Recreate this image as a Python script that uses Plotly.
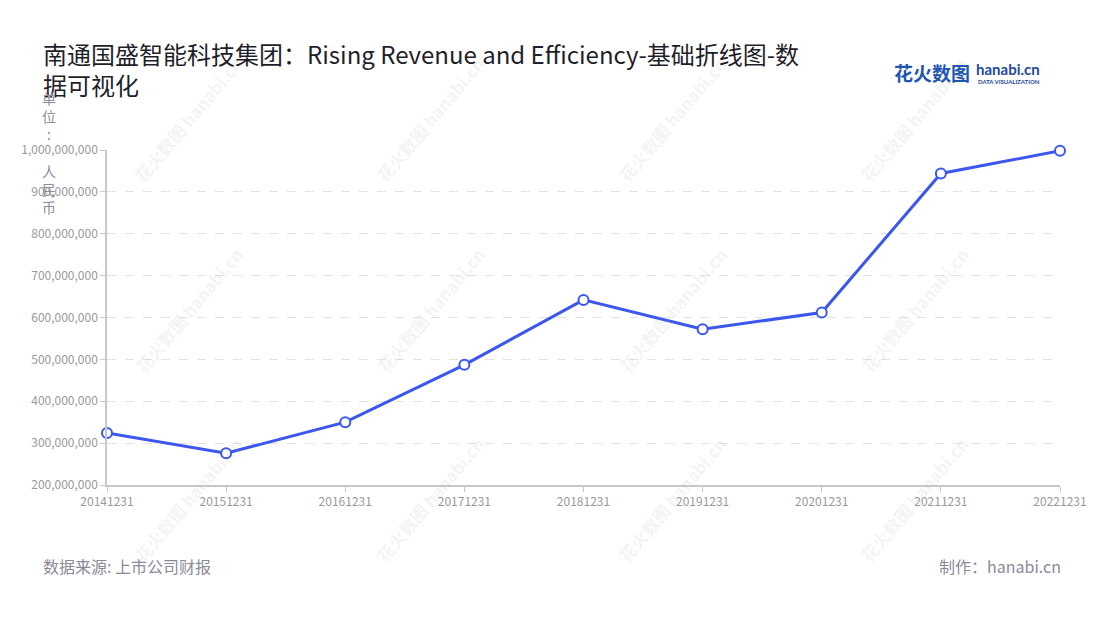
import plotly.graph_objects as go

categories = ["20141231", "20151231", "20161231", "20171231", "20181231",
              "20191231", "20201231", "20211231", "20221231"]
revenue = [324e6, 276e6, 350e6, 487e6, 642e6, 572e6, 612e6, 944e6, 998e6]
y_ticks = [200e6, 300e6, 400e6, 500e6, 600e6, 700e6, 800e6, 900e6, 1000e6]

title_text = "南通国盛智能科技集团：Rising Revenue and Efficiency-基础折线图-数<br>据可视化"
source_text = "数据来源: 上市公司财报"
maker_text = "制作：hanabi.cn"
unit_text = "单<br>位<br>:<br> <br>人<br>民<br>币"

FONT = "Noto Sans CJK SC, Noto Sans, sans-serif"
W, H = 1100, 620
L, R, T, B = 107, 40, 150, 135
PW, PH = W - L - R, H - T - B


def px(x):
    return (x - L) / PW


def py(y):
    return (H - B - y) / PH


fig = go.Figure()
fig.add_trace(go.Scatter(
    x=categories, y=revenue, mode="lines+markers",
    line=dict(color="#3b57ee", width=3),
    marker=dict(size=10, color="white", line=dict(color="#3b57ee", width=2)),
    hoverinfo="x+y", showlegend=False, cliponaxis=False,
))

annotations = []
# watermarks
for cx in [188, 430, 672, 914]:
    for cy in [120, 310, 500]:
        annotations.append(dict(
            x=px(cx), y=py(cy), xref="paper", yref="paper",
            text="<b>花火数图 hanabi.cn</b>", showarrow=False, textangle=-50,
            font=dict(family=FONT, size=17, color="rgba(170,170,170,0.15)"),
            xanchor="center", yanchor="middle"))

annotations += [
    dict(x=px(41), y=py(34), xref="paper", yref="paper", text=title_text,
         showarrow=False, xanchor="left", yanchor="top", align="left",
         font=dict(family=FONT, size=24, color="#1f1f2b")),
    dict(x=px(49), y=py(86), xref="paper", yref="paper", text=unit_text,
         showarrow=False, xanchor="center", yanchor="top", align="center",
         font=dict(family=FONT, size=14, color="#8d8d9c")),
    dict(x=px(41), y=py(566), xref="paper", yref="paper", text=source_text,
         showarrow=False, xanchor="left", yanchor="middle",
         font=dict(family=FONT, size=16, color="#8a8a9a")),
    dict(x=px(1063), y=py(566), xref="paper", yref="paper", text=maker_text,
         showarrow=False, xanchor="right", yanchor="middle",
         font=dict(family=FONT, size=16, color="#8a8a9a")),
    # logo
    dict(x=px(892), y=py(72), xref="paper", yref="paper", text="<b>花火数图</b>",
         showarrow=False, xanchor="left", yanchor="middle",
         font=dict(family=FONT, size=19, color="#1f56b0")),
    dict(x=px(974), y=py(69), xref="paper", yref="paper", text="<b>hanabi.cn</b>",
         showarrow=False, xanchor="left", yanchor="middle",
         font=dict(family="Lato, sans-serif", size=15, color="#1f4a9c")),
    dict(x=px(976), y=py(81), xref="paper", yref="paper", text="<b>DATA VISUALIZATION</b>",
         showarrow=False, xanchor="left", yanchor="middle",
         font=dict(family="Lato, sans-serif", size=6, color="#1f4a9c")),
]

fig.update_layout(
    width=W, height=H,
    margin=dict(l=L, r=R, t=T, b=B, pad=0),
    paper_bgcolor="white", plot_bgcolor="white",
    font=dict(family=FONT, color="#999999", size=12),
    annotations=annotations,
    xaxis=dict(
        type="category", range=[0, len(categories) - 1],
        showline=True, linecolor="#c8c8c8", linewidth=1.5,
        ticks="outside", ticklen=5, tickcolor="#c8c8c8",
        showgrid=False, zeroline=False,
        tickfont=dict(family=FONT, size=12, color="#999999"),
    ),
    yaxis=dict(
        range=[200e6, 1000e6], tickvals=y_ticks, tickformat=",d",
        showline=True, linecolor="#c8c8c8", linewidth=1.5,
        ticks="outside", ticklen=5, tickcolor="#c8c8c8",
        showgrid=True, gridcolor="#e2e2e2", griddash="dash", gridwidth=1,
        zeroline=False,
        tickfont=dict(family=FONT, size=12, color="#999999"),
    ),
)

fig.write_html("out.html")
